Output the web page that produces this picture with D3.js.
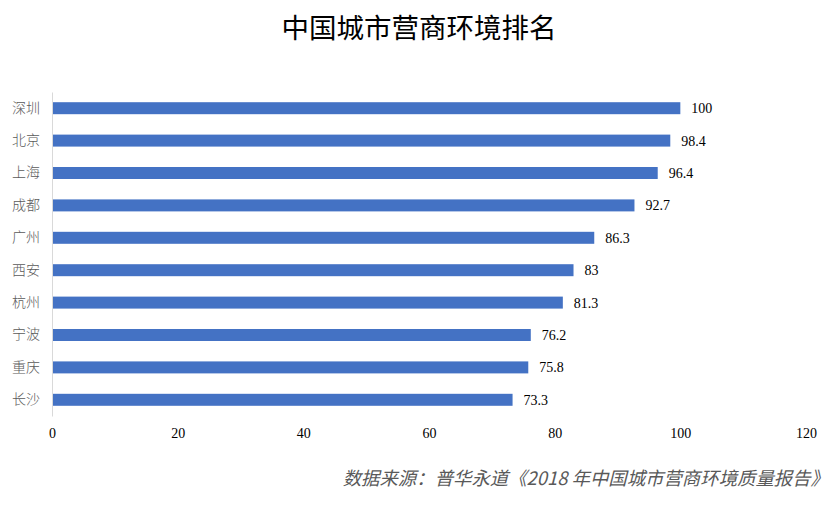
<!DOCTYPE html>
<html>
<head>
<meta charset="utf-8">
<script src="https://cdn.jsdelivr.net/npm/d3@7"></script>
<style>
  body { margin: 0; background: #fff; }
</style>
</head>
<body>
<div id="canvas"></div>
<script>
const cities = ["深圳", "北京", "上海", "成都", "广州", "西安", "杭州", "宁波", "重庆", "长沙"]
const scores = [100, 98.4, 96.4, 92.7, 86.3, 83, 81.3, 76.2, 75.8, 73.3]
const ticks = [0, 20, 40, 60, 80, 100, 120]

const data = cities.map((c, i) => ({ name: c, value: scores[i] }))

const width = 835
const height = 505
const margin = { top: 92, left: 52, bottom: 89, right: 29 }
const iwidth = width - margin.left - margin.right
const iheight = height - margin.top - margin.bottom

const svg = d3.select("#canvas").append("svg")
    .attr("width", width)
    .attr("height", height)

svg.append("text")
    .attr("x", 419)
    .attr("y", 38)
    .attr("text-anchor", "middle")
    .style("font-family", "'Noto Sans CJK SC', sans-serif")
    .style("font-size", "27.5px")
    .style("fill", "#000")
    .text("中国城市营商环境排名")

const g = svg.append("g")
    .attr("transform", `translate(${margin.left}, ${margin.top})`)

const x = d3.scaleLinear()
    .domain([0, 120])
    .range([0, iwidth])

const y = d3.scaleBand()
    .domain(cities)
    .range([0, iheight])
    .paddingInner(0.63)
    .paddingOuter(0.315)

g.selectAll("rect.bar").data(data)
    .enter()
    .append("rect")
    .attr("class", "bar")
    .style("fill", "#4472c4")
    .attr("x", 0)
    .attr("y", d => y(d.name))
    .attr("width", d => x(d.value))
    .attr("height", y.bandwidth())

g.selectAll("text.val").data(data)
    .enter()
    .append("text")
    .attr("class", "val")
    .attr("x", d => x(d.value) + 11)
    .attr("y", d => y(d.name) + y.bandwidth() / 2)
    .attr("dy", "0.35em")
    .style("font-family", "'Liberation Serif', serif")
    .style("font-size", "14px")
    .style("fill", "#000")
    .text(d => d.value)

const xAxis = g.append("g")
    .attr("transform", `translate(0, ${iheight})`)
    .call(d3.axisBottom(x).tickValues(ticks).tickSize(0).tickPadding(12))
xAxis.select(".domain").remove()
xAxis.selectAll("text")
    .style("font-family", "'Liberation Serif', serif")
    .style("font-size", "14px")
    .style("fill", "#000")

const yAxis = g.append("g")
    .call(d3.axisLeft(y).tickSize(0).tickPadding(12))
yAxis.select(".domain")
    .attr("stroke", "#d9d9d9")
yAxis.selectAll("text")
    .style("font-family", "'Noto Sans CJK SC', sans-serif")
    .style("font-size", "14px")
    .style("font-weight", "300")
    .style("fill", "#595959")

svg.append("text")
    .attr("x", 829)
    .attr("y", 485)
    .attr("text-anchor", "end")
    .style("font-family", "'Noto Sans CJK SC', sans-serif")
    .style("font-size", "18.4px")
    .style("font-style", "italic")
    .style("fill", "#595959")
    .text("数据来源：普华永道《2018 年中国城市营商环境质量报告》")
</script>
</body>
</html>
